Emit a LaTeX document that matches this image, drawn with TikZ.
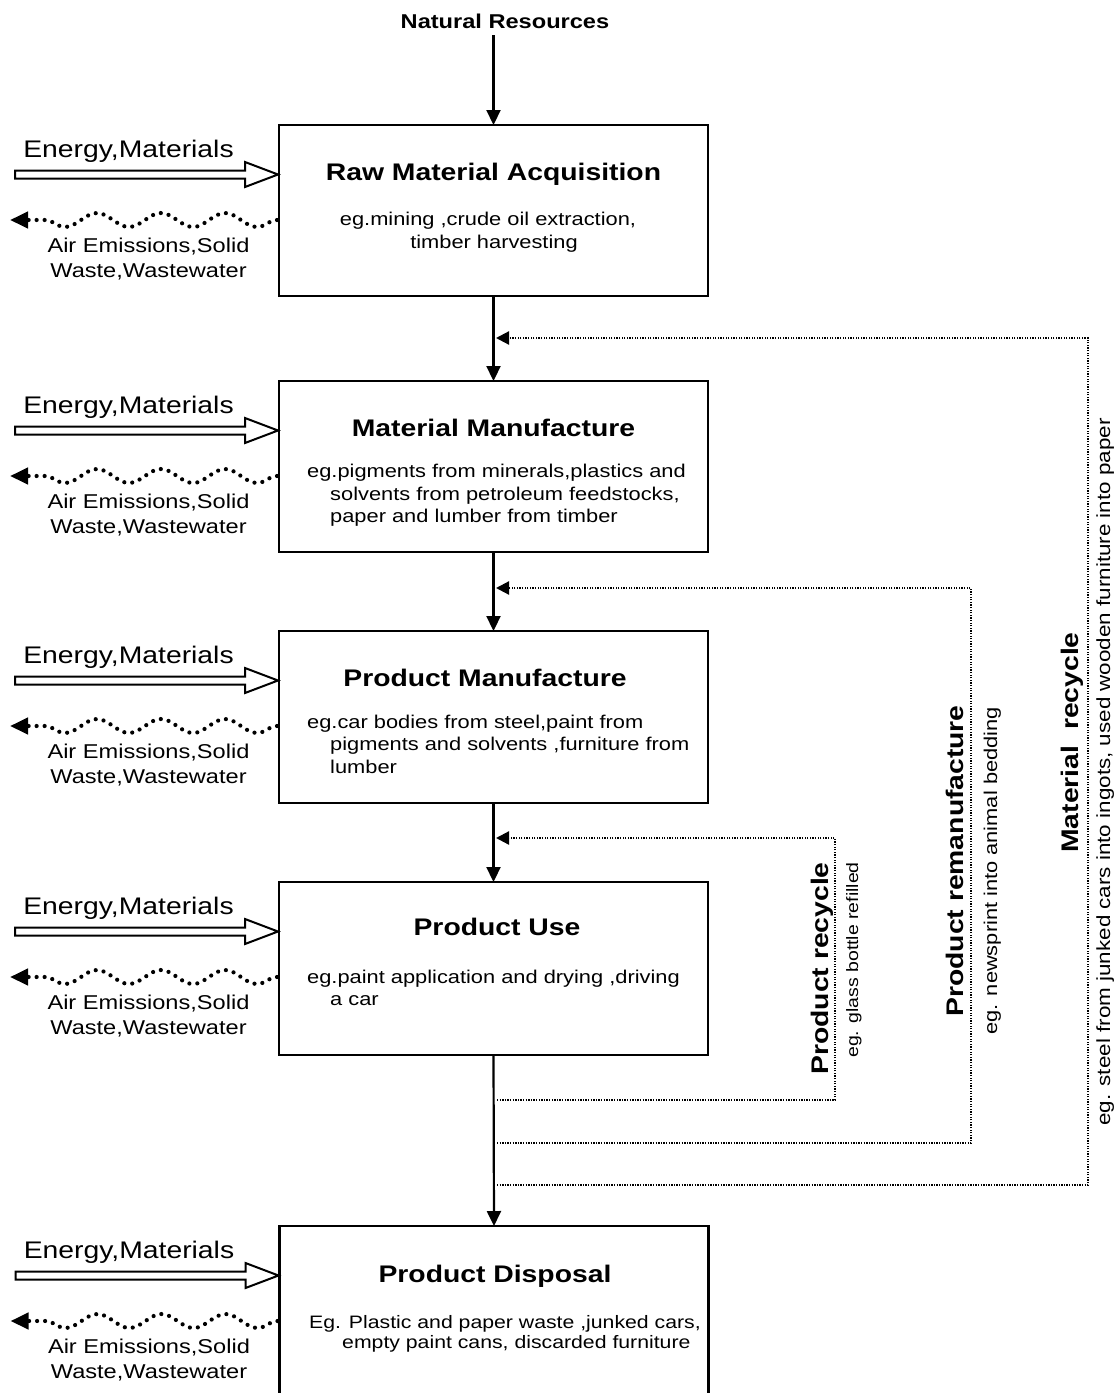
\documentclass[tikz,border=0pt]{standalone}
\usepackage{fontspec}
\setmainfont{Liberation Sans}[FakeStretch=1.18]
\usetikzlibrary{arrows.meta,decorations.pathmorphing,calc}
\begin{document}
\begin{tikzpicture}[x=1pt,y=-1pt,
  box/.style={draw,line width=2.6pt,minimum width=429pt,inner sep=0pt,outer sep=0pt},
  flow/.style={line width=2.2pt,-{Triangle[length=15pt,width=14pt]}},
  fb/.style={line width=2.2pt,dash pattern=on 1.3pt off 1.3pt,-{Triangle[length=13pt,width=13pt]}},
  hollow/.style={draw,line width=2pt,fill=white,line join=miter},
  wavy/.style={line width=4.2pt,line cap=round,dash pattern=on 0pt off 8pt,
    decorate,decoration={snake,amplitude=7pt,segment length=64pt,post length=16pt},
    -{Triangle[length=18pt,width=16pt]}},
  ttl/.style={font=\fontsize{24}{28}\selectfont\bfseries,inner sep=0pt,anchor=base},
  body/.style={font=\fontsize{18.5}{22}\selectfont,inner sep=0pt},
  enfont/.style={font=\fontsize{24}{28}\selectfont,inner sep=0pt,anchor=base},
  airfont/.style={font=\fontsize{20}{24}\selectfont,inner sep=0pt,anchor=base},
  vtitle/.style={rotate=90,anchor=base east,inner sep=0pt,font=\fontsize{24}{28}\selectfont\bfseries},
  vnote/.style={rotate=90,anchor=base east,inner sep=0pt}
]
\useasboundingbox (0,0) rectangle (1114,1393);
\clip (0,0) rectangle (1114,1393);

% boxes
\node[box,minimum height=171pt] (b1) at (493.5,210.5) {};
\node[box,minimum height=171pt] (b2) at (493.5,466.5) {};
\node[box,minimum height=172pt] (b3) at (493.5,717) {};
\node[box,minimum height=173pt] (b4) at (493.5,968.5) {};
\node[box,minimum height=176pt] (b5) at (494,1314) {};

% titles
\node[ttl] (b1h) at (493.5,180) {Raw Material Acquisition};
\node[ttl] (b2h) at (493.5,436) {Material Manufacture};
\node[ttl] (b3h) at (485,686) {Product Manufacture};
\node[ttl] (b4h) at (497,935) {Product Use};
\node[ttl] (b5h) at (495,1282) {Product Disposal};

% body texts
\node[body,anchor=base] (b1t1) at (488,225) {eg.mining ,crude oil extraction,};
\node[body,anchor=base] (b1t2) at (494,248) {timber harvesting};
\node[body,anchor=base west] (b2t1) at (307,477) {eg.pigments from minerals,plastics and};
\node[body,anchor=base west] (b2t2) at (330,500) {solvents from petroleum feedstocks,};
\node[body,anchor=base west] (b2t3) at (330,522) {paper and lumber from timber};
\node[body,anchor=base west] (b3t1) at (307,728) {eg.car bodies from steel,paint from};
\node[body,anchor=base west] (b3t2) at (330,750) {pigments and solvents ,furniture from};
\node[body,anchor=base west] (b3t3) at (330,773) {lumber};
\node[body,anchor=base west] (b4t1) at (307,983) {eg.paint application and drying ,driving};
\node[body,anchor=base west] (b4t2) at (330,1005) {a car};
\node[body,anchor=base west,font=\fontsize{18}{22}\selectfont] (b5t1) at (309,1328) {Eg. Plastic and paper waste ,junked cars,};
\node[body,anchor=base west,font=\fontsize{18}{22}\selectfont] (b5t2) at (342,1348) {empty paint cans, discarded furniture};

% natural resources
\node[font=\fontsize{20}{24}\selectfont\bfseries,inner sep=0pt,anchor=base] (nr) at (505,28) {Natural Resources};
\draw[flow,shorten <=7pt] (nr.south -| b1.north) -- (b1.north);

% main flow
\draw[flow] (b1.south) -- (b2.north);
\draw[flow] (b2.south) -- (b3.north);
\draw[flow] (b3.south) -- (b4.north);
\draw[flow] (b4.south) -- (b5.north);

% feedback loops
\coordinate (prs) at (497,1100);
\coordinate (prc) at (835,838);
\coordinate (pre) at (496,838);
\draw[fb] (prs) -| (prc) -- (pre);
\coordinate (pms) at (497,1143);
\coordinate (pmc) at (971,588);
\coordinate (pme) at (496,588);
\draw[fb] (pms) -| (pmc) -- (pme);
\coordinate (mrs) at (497,1185);
\coordinate (mrc) at (1088,338);
\coordinate (mre) at (496,338);
\draw[fb] (mrs) -| (mrc) -- (mre);

% loop labels
\node[vtitle] (prt) at (828,862) {Product recycle};
\node[vnote,font=\fontsize{16.5}{20}\selectfont] (prd) at (858,862) {eg. glass bottle refilled};
\node[vtitle] (pmt) at (963,705) {Product remanufacture};
\node[vnote,font=\fontsize{18.5}{22}\selectfont] (pmd) at (997,707) {eg. newsprint into animal bedding};
\node[vtitle] (mrt) at (1078,632) {Material\ \ recycle};
\node[vnote,font=\fontsize{19}{22}\selectfont] (mrd) at (1110,418) {eg. steel from junked cars into ingots, used wooden furniture into paper};

% inputs and outputs on the left of every box
\foreach \b in {b1,b2,b3,b4,b5}{
  \coordinate (\b-nw) at (\b.north west);
  \node[enfont] (\b-en) at ($(\b-nw)+(-150.5,32)$) {Energy,Materials};
  \draw[hollow] ($(\b-nw)+(-264,45.5)$) -- ++(230,0) -- ++(0,-8.5) -- ++(33,12.5)
     -- ++(-33,12.5) -- ++(0,-8.5) -- ++(-230,0) -- cycle;
  \coordinate (\b-ws) at ($(\b-nw)+(-2,95)$);
  \coordinate (\b-we) at ($(\b-nw)+(-269,95)$);
  \draw[wavy] (\b-ws) -- (\b-we);
  \node[airfont] (\b-a1) at ($(\b-nw)+(-130.5,127)$) {Air Emissions,Solid};
  \node[airfont] (\b-a2) at ($(\b-nw)+(-130.5,152)$) {Waste,Wastewater};
}
\end{tikzpicture}
\end{document}
